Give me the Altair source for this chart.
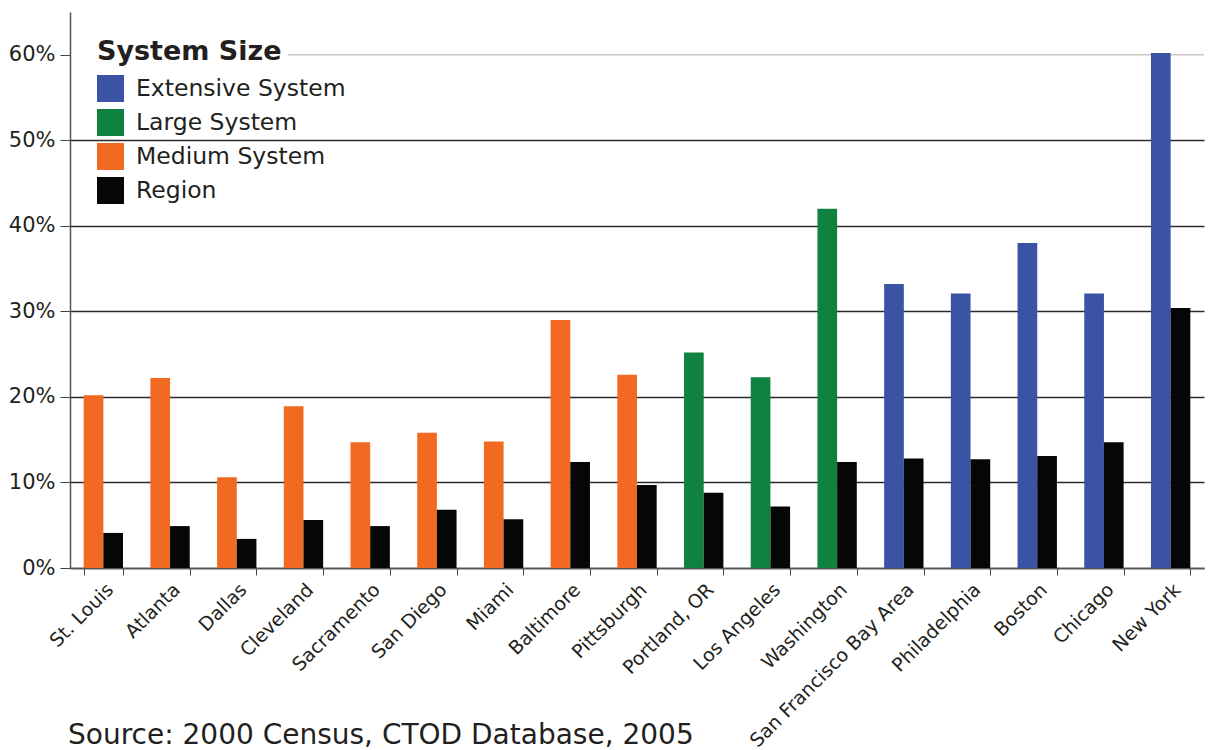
import altair as alt
import pandas as pd

cities = ["St. Louis", "Atlanta", "Dallas", "Cleveland", "Sacramento", "San Diego",
          "Miami", "Baltimore", "Pittsburgh", "Portland, OR", "Los Angeles",
          "Washington", "San Francisco Bay Area", "Philadelphia", "Boston",
          "Chicago", "New York"]
system_size = (["Medium System"] * 9) + (["Large System"] * 3) + (["Extensive System"] * 5)
system_share = [20.2, 22.2, 10.6, 18.9, 14.7, 15.8, 14.8, 29.0, 22.6, 25.2, 22.3,
                42.0, 33.2, 32.1, 38.0, 32.1, 60.2]
region_share = [4.1, 4.9, 3.4, 5.6, 4.9, 6.8, 5.7, 12.4, 9.7, 8.8, 7.2,
                12.4, 12.8, 12.7, 13.1, 14.7, 30.4]

legend_domain = ["Extensive System", "Large System", "Medium System", "Region"]
legend_colors = ["#3a53a4", "#0f8140", "#f26a22", "#050706"]
y_ticks = [0, 0.1, 0.2, 0.3, 0.4, 0.5, 0.6]
top_grid = [0.6]
source_text = "Source: 2000 Census, CTOD Database, 2005"

rows = []
for c, s, v, r in zip(cities, system_size, system_share, region_share):
    rows.append({"city": c, "series": "system", "cat": s, "value": v / 100})
    rows.append({"city": c, "series": "region", "cat": "Region", "value": r / 100})
df = pd.DataFrame(rows)

FONT = "DejaVu Sans"
H = 556
W = 1134

# light top gridline (starts right of the legend title, as in the original)
top_rule = alt.Chart(pd.DataFrame({"v": top_grid})).mark_rule(
    color="#c8c8c8", strokeWidth=1.3
).encode(y=alt.Y("v:Q"), x=alt.value(218), x2=alt.value(W))

bars = alt.Chart(df).mark_bar().encode(
    x=alt.X("city:N", sort=cities, title=None,
            scale=alt.Scale(paddingInner=0.41, paddingOuter=0.205),
            axis=alt.Axis(labelAngle=-45, labelAlign="right", labelBaseline="top",
                          tickBand="extent", tickSize=7, tickColor="#444",
                          domainColor="#555", domainWidth=1.5,
                          labelFontSize=19, labelColor="#231f20", labelFont=FONT,
                          labelPadding=5, labelLimit=400, grid=False)),
    xOffset=alt.XOffset("series:N", sort=["system", "region"],
                        scale=alt.Scale(domain=["system", "region"], paddingInner=0, paddingOuter=0)),
    y=alt.Y("value:Q", title=None,
            scale=alt.Scale(domain=[0, 0.65], nice=False),
            axis=alt.Axis(values=y_ticks, format=".0%", tickSize=10, tickColor="#444",
                          domainColor="#555", domainWidth=1.5,
                          labelFontSize=21, labelColor="#231f20", labelFont=FONT,
                          labelPadding=5,
                          grid=True, gridWidth=1.3,
                          gridColor={"condition": {"test": "datum.value > 0.55", "value": "transparent"},
                                     "value": "#2a2a2a"})),
    color=alt.Color("cat:N",
                    scale=alt.Scale(domain=legend_domain, range=legend_colors),
                    legend=alt.Legend(title="System Size", orient="none", legendX=27, legendY=27,
                                      titleFontSize=27, titleFontWeight="bold", titleColor="#231f20",
                                      titleFont=FONT, titlePadding=9, titleLimit=500,
                                      labelFontSize=23.5, labelColor="#231f20", labelFont=FONT,
                                      labelLimit=500,
                                      symbolType="square", symbolSize=729, symbolStrokeWidth=0,
                                      labelOffset=12, rowPadding=7)),
)

source = alt.Chart(pd.DataFrame({"t": [source_text]})).mark_text(
    align="left", baseline="alphabetic", fontSize=28, font=FONT, color="#231f20"
).encode(text="t:N", x=alt.value(-2), y=alt.value(H + 176))

chart = alt.layer(top_rule, bars, source).properties(
    width=W, height=H,
    padding={"left": 0, "top": 4, "right": 0, "bottom": 0},
).configure_view(stroke=None)

chart.save("out.html", embed_options={"renderer": "svg", "actions": False})
